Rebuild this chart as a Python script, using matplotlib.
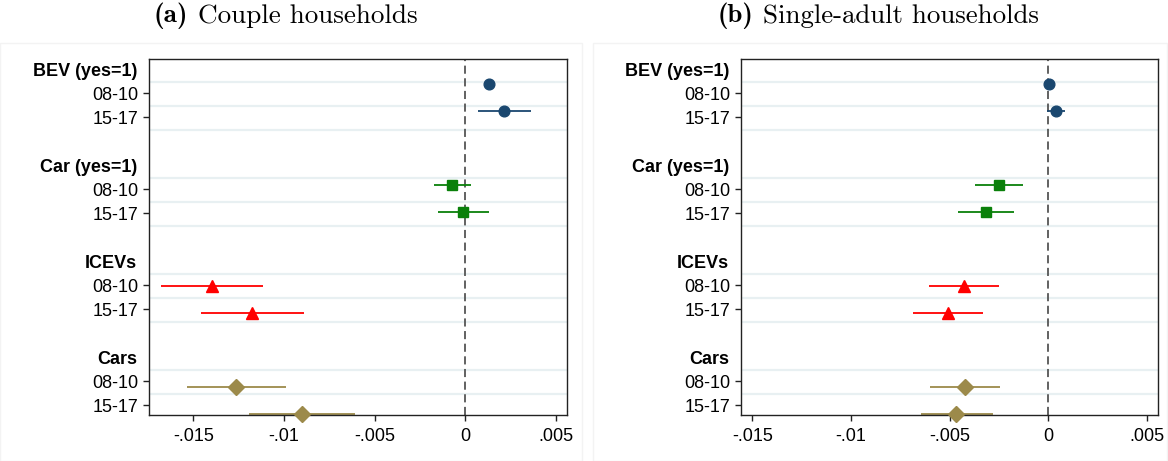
import matplotlib
matplotlib.use("Agg")
import matplotlib.pyplot as plt
from matplotlib.patches import Rectangle
import numpy as np

plt.rcParams['font.family'] = ['Liberation Sans', 'DejaVu Sans']

groups = ["BEV (yes=1)", "Car (yes=1)", "ICEVs", "Cars"]
periods = ["08-10", "15-17"]
colors = ["#1a476f", "#0a800a", "#ff0000", "#9c8a4a"]
markers = ["o", "s", "^", "D"]
msizes = [7.7, 7.5, 8.0, 7.7]

couple_b = [[0.00131, 0.00214], [-0.00073, -0.00012], [-0.01397, -0.01174], [-0.01264, -0.00902]]
couple_lo = [[0.00112, 0.00072], [-0.00175, -0.00150], [-0.01675, -0.01458], [-0.01536, -0.01192]]
couple_hi = [[0.00150, 0.00363], [0.00031, 0.00128], [-0.01116, -0.00890], [-0.00988, -0.00608]]

single_b = [[0.00006, 0.00038], [-0.00252, -0.00317], [-0.00429, -0.00510], [-0.00420, -0.00467]]
single_lo = [[-0.00010, -0.00006], [-0.00373, -0.00457], [-0.00603, -0.00684], [-0.00598, -0.00646]]
single_hi = [[0.00020, 0.00084], [-0.00127, -0.00175], [-0.00252, -0.00332], [-0.00243, -0.00282]]

xticks = [-0.015, -0.01, -0.005, 0, 0.005]
xticklabels = ["-.015", "-.01", "-.005", "0", ".005"]

titles = [("(a)", "Couple households"), ("(b)", "Single-adult households")]


def panel(ax, b, lo, hi, xlim):
    # row layout (unit = one label row)
    ypos, ylab = [], []
    for g in range(len(groups)):
        for k in range(3):
            ax.axhline(4 * g + 0.95 + k, color="#e8f0f2", lw=1.6, zorder=0)
        for i, p in enumerate(periods):
            ypos.append(4 * g + 1.43 + i)
            ylab.append(p)
        ax.annotate(groups[g], xy=(0, 4 * g + 0.52), xycoords=("axes fraction", "data"),
                    xytext=(-12, 0), textcoords="offset pixels", ha="right", va="center",
                    fontsize=13, fontweight="bold", annotation_clip=False)
    ax.axvline(0, color="#555555", lw=1.3, ls=(0, (4.5, 2.5)), zorder=1)
    for g in range(len(groups)):
        ym = 1.054 + 4.21 * g + 1.11 * np.arange(len(periods))
        ax.hlines(ym, lo[g], hi[g], color=colors[g], lw=1.3, zorder=2, clip_on=False)
        ax.plot(b[g], ym, ls="none", marker=markers[g], ms=msizes[g], color=colors[g],
                mec=colors[g], zorder=3, clip_on=False)
    ax.set_ylim(14.833, 0)
    ax.set_xlim(*xlim)
    ax.set_yticks(ypos)
    ax.set_yticklabels(ylab, fontsize=13)
    ax.set_xticks(xticks)
    ax.set_xticklabels(xticklabels, fontsize=13)
    ax.tick_params(axis="both", length=4.5, width=1, color="#222222", pad=3.5)
    ax.tick_params(axis="x", pad=5)
    for s in ax.spines.values():
        s.set_color("#222222")
        s.set_linewidth(1.0)


fig = plt.figure(figsize=(11.68, 4.61), dpi=100)
fig.patches.append(Rectangle((0.0, 0.0), 582 / 1168, 1 - 43 / 461, transform=fig.transFigure,
                             fill=False, ec="#f3f3f3", lw=1))
fig.patches.append(Rectangle((593 / 1168, 0.0), 574 / 1168, 1 - 43 / 461, transform=fig.transFigure,
                             fill=False, ec="#f3f3f3", lw=1))

ax1 = fig.add_axes([149.3 / 1168, 46 / 461, 418 / 1168, 356 / 461])
panel(ax1, couple_b, couple_lo, couple_hi, (-0.01742, 0.00562))
ax2 = fig.add_axes([741 / 1168, 46 / 461, 416.7 / 1168, 356 / 461])
panel(ax2, single_b, single_lo, single_hi, (-0.01558, 0.00555))

# titles: bold label + regular text, centred together; span fitted to the reference
renderer = fig.canvas.get_renderer()
for (lab, txt), x0, x1 in zip(titles, [153, 717], [418, 1039]):
    fs = 18.5
    for _ in range(2):
        t1 = fig.text(0, 1 - 16 / 461, lab, family="cmb10", fontsize=fs, ha="left", va="center")
        t2 = fig.text(0, 1 - 16 / 461, txt, family="cmr10", fontsize=fs, ha="left", va="center")
        gap = 0.36 * fs * 100 / 72
        w1 = t1.get_window_extent(renderer).width
        w2 = t2.get_window_extent(renderer).width
        total = w1 + gap + w2
        if abs(total - (x1 - x0)) < 2:
            break
        fs = fs * (x1 - x0) / total
        t1.remove()
        t2.remove()
    xs = (x0 + x1) / 2 - total / 2
    t1.set_x(xs / 1168)
    t2.set_x((xs + w1 + gap) / 1168)

fig.savefig("out.png", dpi=100)
